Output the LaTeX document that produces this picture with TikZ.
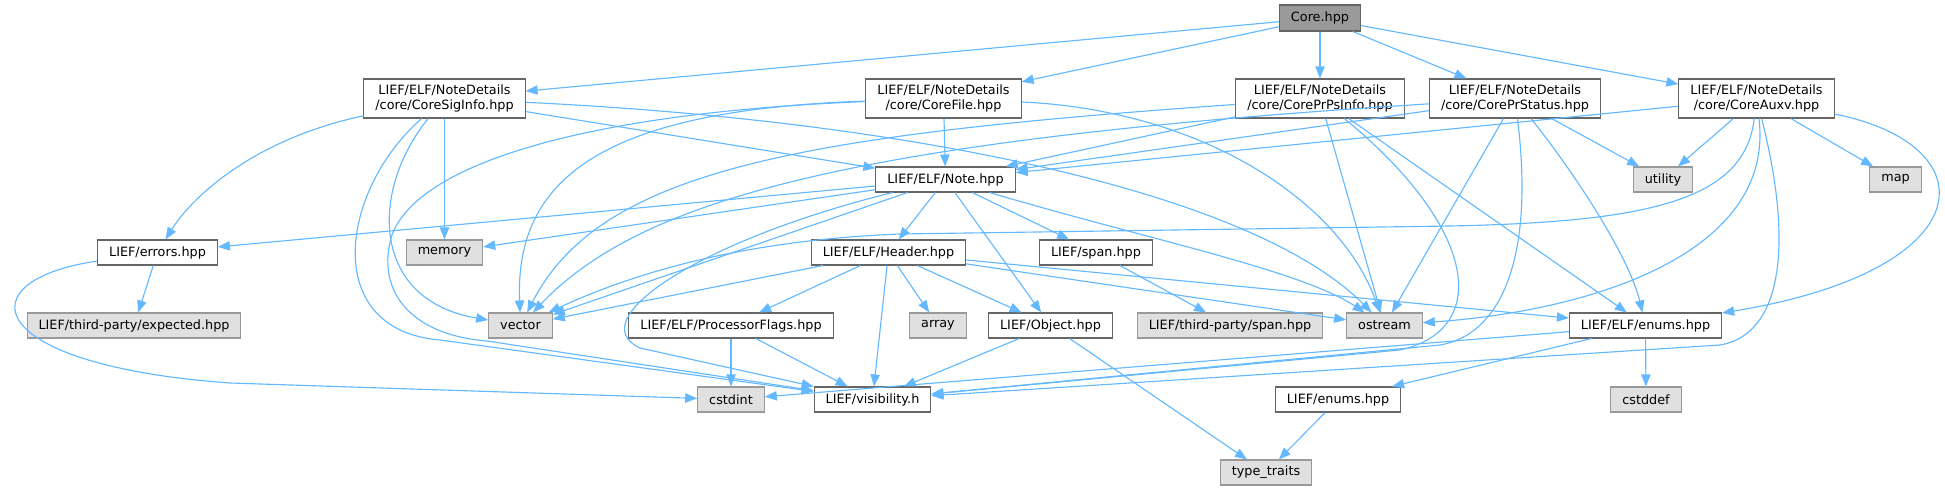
\documentclass[tikz,border=0pt]{standalone}
\usepackage{fontspec}
\setmainfont{DejaVu Sans}
\usepackage{xcolor}
\usetikzlibrary{arrows.meta}
\definecolor{edgeblue}{RGB}{99,184,255}
\definecolor{boxgray}{RGB}{224,224,224}
\definecolor{rimdark}{RGB}{102,102,102}
\definecolor{rimlight}{RGB}{153,153,153}

\begin{document}
\begin{tikzpicture}[x=0.75pt, y=-0.75pt,
    hppbox/.style={draw=rimdark, fill=white, line width=0.8pt, inner xsep=8.6pt, inner ysep=0pt,
                   minimum height=18.75pt, font=\fontsize{9.6}{11}\selectfont, align=center},
    stdbox/.style={hppbox, draw=rimlight, fill=boxgray},
    notebox/.style={hppbox, minimum height=29.25pt},
    mainbox/.style={hppbox, fill=rimlight, minimum height=19.5pt},
    dep/.style={edgeblue, line width=0.85pt, -{Triangle[length=9pt,width=7pt]}}]
    \useasboundingbox (0,0) rectangle (1945,491);

    % Root header
    \node[mainbox] (core) at (1320,18) {Core.hpp};

    % NoteDetails headers
    \node[notebox] (sig) at (444.5,98.5) {LIEF/ELF/NoteDetails\\/core/CoreSigInfo.hpp};
    \node[notebox] (file) at (943.5,98.5) {LIEF/ELF/NoteDetails\\/core/CoreFile.hpp};
    \node[notebox] (ps) at (1320,98.5) {LIEF/ELF/NoteDetails\\/core/CorePrPsInfo.hpp};
    \node[notebox] (st) at (1515,98.5) {LIEF/ELF/NoteDetails\\/core/CorePrStatus.hpp};
    \node[notebox] (aux) at (1756.5,98.5) {LIEF/ELF/NoteDetails\\/core/CoreAuxv.hpp};

    % Third row
    \node[hppbox] (note) at (945.5,179.5) {LIEF/ELF/Note.hpp};
    \node[stdbox] (utility) at (1663,179.5) {utility};
    \node[stdbox] (map) at (1895.5,179.5) {map};

    % Fourth row
    \node[hppbox] (errors) at (157.5,252.5) {LIEF/errors.hpp};
    \node[stdbox] (memory) at (444.5,252.5) {memory};
    \node[hppbox] (header) at (888.5,252.5) {LIEF/ELF/Header.hpp};
    \node[hppbox] (span) at (1096,252.5) {LIEF/span.hpp};

    % Fifth row
    \node[stdbox] (expected) at (134,325.5) {LIEF/third-party/expected.hpp};
    \node[stdbox] (vector) at (520.5,325.5) {vector};
    \node[hppbox] (procflags) at (731,325.5) {LIEF/ELF/ProcessorFlags.hpp};
    \node[stdbox] (array) at (938,325.5) {array};
    \node[hppbox] (object) at (1050.5,325.5) {LIEF/Object.hpp};
    \node[stdbox] (tpspan) at (1230,325.5) {LIEF/third-party/span.hpp};
    \node[stdbox] (ostream) at (1384.5,325.5) {ostream};
    \node[hppbox] (elfenums) at (1645.5,325.5) {LIEF/ELF/enums.hpp};

    % Sixth and last rows
    \node[stdbox] (cstdint) at (731,399.5) {cstdint};
    \node[hppbox] (visibility) at (872.5,399.5) {LIEF/visibility.h};
    \node[hppbox] (liefenums) at (1338,399.5) {LIEF/enums.hpp};
    \node[stdbox] (cstddef) at (1646,399.5) {cstddef};
    \node[stdbox] (typetraits) at (1266,472.5) {type\_traits};

    % Core.hpp includes
    \draw[dep] (core) -- (sig);
    \draw[dep] (core) -- (file);
    \draw[dep] (core) -- (ps);
    \draw[dep] (core) -- (st);
    \draw[dep] (core) -- (aux);

    % CoreSigInfo.hpp
    \draw[dep] (sig) .. controls (250,140) and (190,200) .. (errors);
    \draw[dep] (sig) -- (memory);
    \draw[dep] (sig) .. controls (370,190) and (370,300) .. (vector);
    \draw[dep] (sig) .. controls (340,190) and (320,330) .. (440,340) -- (visibility);
    \draw[dep] (sig) -- (note);
    \draw[dep] (sig) .. controls (900,120) and (1250,190) .. (ostream);

    % CoreFile.hpp
    \draw[dep] (file) -- (note);
    \draw[dep] (file) .. controls (600,110) and (515,180) .. (vector);
    \draw[dep] (file) .. controls (600,112) and (420,160) .. (392,235)
        .. controls (375,290) and (410,335) .. (487,341) -- (visibility);
    \draw[dep] (file) .. controls (1200,110) and (1340,200) .. (ostream);

    % CorePrPsInfo.hpp
    \draw[dep] (ps) -- (note);
    \draw[dep] (ps) .. controls (800,135) and (600,170) .. (vector);
    \draw[dep] (ps) -- (ostream);
    \draw[dep] (ps) .. controls (1480,230) and (1490,330) .. (1400,350) -- (visibility);
    \draw[dep] (ps) -- (elfenums);

    % CorePrStatus.hpp
    \draw[dep] (st) -- (note);
    \draw[dep] (st) .. controls (850,140) and (640,200) .. (vector);
    \draw[dep] (st) -- (ostream);
    \draw[dep] (st) .. controls (1535,260) and (1500,335) .. (1440,345) -- (visibility);
    \draw[dep] (st) .. controls (1580,180) and (1630,260) .. (elfenums);
    \draw[dep] (st) -- (utility);

    % CoreAuxv.hpp
    \draw[dep] (aux) -- (note);
    \draw[dep] (aux) .. controls (1745,200) and (1650,222) .. (1450,226) -- (900,234)
        .. controls (750,240) and (640,270) .. (vector);
    \draw[dep] (aux) -- (utility);
    \draw[dep] (aux) -- (map);
    \draw[dep] (aux) .. controls (1775,250) and (1600,310) .. (ostream);
    \draw[dep] (aux) .. controls (1795,250) and (1780,335) .. (1720,345) -- (visibility);
    \draw[dep] (aux) .. controls (1990,145) and (1985,270) .. (elfenums);

    % Note.hpp
    \draw[dep] (note) -- (errors);
    \draw[dep] (note) -- (memory);
    \draw[dep] (note) -- (vector);
    \draw[dep] (note) .. controls (700,240) and (580,320) .. (640,348) -- (visibility);
    \draw[dep] (note) -- (header);
    \draw[dep] (note) -- (object);
    \draw[dep] (note) -- (span);
    \draw[dep] (note) .. controls (1150,240) and (1300,270) .. (ostream);

    % Header.hpp
    \draw[dep] (header) -- (vector);
    \draw[dep] (header) -- (procflags);
    \draw[dep] (header) -- (visibility);
    \draw[dep] (header) -- (array);
    \draw[dep] (header) -- (object);
    \draw[dep] (header) -- (ostream);
    \draw[dep] (header) -- (elfenums);

    % Lower headers
    \draw[dep] (span) -- (tpspan);
    \draw[dep] (object) -- (visibility);
    \draw[dep] (object) -- (typetraits);
    \draw[dep] (procflags) -- (cstdint);
    \draw[dep] (procflags) -- (visibility);
    \draw[dep] (errors) -- (expected);
    \draw[dep] (errors) .. controls (-35,280) and (-20,365) .. (230,383) -- (cstdint);
    \draw[dep] (elfenums) -- (cstdint);
    \draw[dep] (elfenums) -- (liefenums);
    \draw[dep] (elfenums) -- (cstddef);
    \draw[dep] (liefenums) -- (typetraits);
\end{tikzpicture}
\end{document}
